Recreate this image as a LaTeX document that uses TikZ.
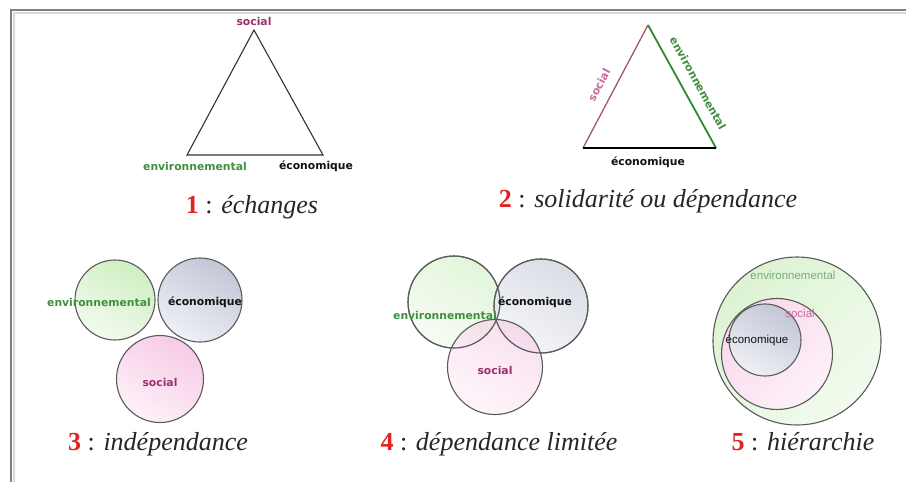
\documentclass[tikz,border=0pt]{standalone}
\usepackage{fontspec}
\setmainfont{Liberation Serif}
\newfontfamily\lblfont{DejaVu Sans}
\newfontfamily\plainsans{Liberation Sans}

\definecolor{socmag}{HTML}{9B2F6F}
\definecolor{soclight}{HTML}{C86A9C}
\definecolor{envgreen}{HTML}{3F8F3F}
\definecolor{envlight}{HTML}{78AE78}
\definecolor{ecoblack}{HTML}{111111}
\definecolor{gfill}{HTML}{CFEFC2}
\definecolor{gfilllight}{HTML}{F2FBEE}
\definecolor{gpale}{HTML}{DDF3D3}
\definecolor{pfill}{HTML}{F7CBE6}
\definecolor{pfilllight}{HTML}{FDF1F8}
\definecolor{ppale}{HTML}{F9D9EC}
\definecolor{bfill}{HTML}{C3C7D6}
\definecolor{bfilllight}{HTML}{EEF0F5}
\definecolor{ringcol}{HTML}{5A5A5A}
\definecolor{capred}{HTML}{E02424}
\definecolor{mauve}{HTML}{A0557A}
\definecolor{edgegreen}{HTML}{2E8B2E}

\tikzset{
  lbl/.style={font=\lblfont\bfseries\fontsize{10.8}{11}\selectfont, inner sep=0pt},
  softlbl/.style={font=\plainsans\fontsize{11.5}{12}\selectfont, inner sep=0pt},
  ringnode/.style={circle, draw=ringcol, line width=1.1pt, inner sep=0pt},
  greenring/.style={ringnode, top color=gfill, bottom color=gfilllight, shading angle=-30},
  pinkring/.style={ringnode, top color=pfill, bottom color=pfilllight, shading angle=-30},
  grayring/.style={ringnode, top color=bfill, bottom color=bfilllight, shading angle=-30},
  capt/.style={font=\fontsize{26}{29}\selectfont, text=black!85, inner sep=0pt},
  tri/.style={draw=black!80, line width=1.1pt, line join=miter},
}
\newcommand{\capnum}[1]{\textcolor{capred}{\textbf{#1}}}

\begin{document}
\begin{tikzpicture}[x=1pt, y=-1pt]
\useasboundingbox (0,0) rectangle (906,482);
\fill[white] (0,0) rectangle (906,482);

% frame edges
\draw[black!15, line width=2pt] (13.5,482) -- (13.5,12.5) -- (906,12.5);
\draw[black!50, line width=2pt] (11,482) -- (11,10) -- (906,10);

% ---- 1 : échanges
\coordinate (t1a) at (254,30);
\coordinate (t1l) at (187,155);
\coordinate (t1r) at (323,155);
\draw[tri] (t1a) -- (t1l) -- (t1r) -- cycle;
\node[lbl, text=socmag] (s1) at (254,21) {social};
\node[lbl, text=envgreen] (e1) at (195,166) {environnemental};
\node[lbl, text=ecoblack] (k1) at (316,166) {économique};
\node[capt] (c1) at (252,207) {\capnum{1} : \textit{échanges}};

% ---- 2 : solidarité ou dépendance
\coordinate (t2a) at (648,25);
\coordinate (t2l) at (583,148);
\coordinate (t2r) at (716,148);
\draw[mauve, line width=1.3pt] (t2l) -- (t2a);
\draw[edgegreen, line width=1.8pt] (t2a) -- (t2r);
\draw[black, line width=2.4pt] (t2r) -- (t2l);
\node[lbl, text=soclight, rotate=62] (s2) at (599,85) {social};
\node[lbl, text=envgreen, rotate=-61] (e2) at (698,83) {environnemental};
\node[lbl, text=ecoblack] (k2) at (648,162) {économique};
\node[capt] (c2) at (648,201) {\capnum{2} : \textit{solidarité ou dépendance}};

% ---- 3 : indépendance
\node[greenring, minimum size=80pt] (g3) at (115,300) {};
\node[grayring, minimum size=84pt] (b3) at (200,300) {};
\node[pinkring, minimum size=87pt] (p3) at (160,379) {};
\node[lbl, text=envgreen] (e3) at (99,302) {environnemental};
\node[lbl, text=ecoblack] (k3) at (205,302) {économique};
\node[lbl, text=socmag] (s3) at (160,382) {social};
\node[capt] (c3) at (158,444) {\capnum{3} : \textit{indépendance}};

% ---- 4 : dépendance limitée
\begin{scope}[fill opacity=0.6]
\node[greenring, minimum size=92pt] (g4) at (454,302) {};
\node[grayring, minimum size=94pt] (b4) at (541,306) {};
\node[pinkring, minimum size=95pt] (p4) at (495,367) {};
\end{scope}
\draw[ringcol, line width=1.1pt] (g4.center) circle (46pt);
\draw[ringcol, line width=1.1pt] (b4.center) circle (47pt);
\node[lbl, text=envgreen] (e4) at (445,315) {environnemental};
\node[lbl, text=ecoblack] (k4) at (535,302) {économique};
\node[lbl, text=socmag] (s4) at (495,370) {social};
\node[capt] (c4) at (499,444) {\capnum{4} : \textit{dépendance limitée}};

% ---- 5 : hiérarchie
\node[ringnode, top color=gpale, bottom color=gfilllight, shading angle=45, minimum size=168pt] (g5) at (797,341) {};
\node[ringnode, top color=ppale, bottom color=pfilllight, shading angle=45, minimum size=111pt] (p5) at (777,354) {};
\node[grayring, minimum size=72pt] (b5) at (765,340) {};
\node[softlbl, text=envlight] (e5) at (793,275) {environnemental};
\node[softlbl, text=soclight] (s5) at (800,313) {social};
\node[softlbl, text=ecoblack] (k5) at (757,340) {économique};
\node[capt] (c5) at (803,442) {\capnum{5} : \textit{hiérarchie}};
\end{tikzpicture}
\end{document}
